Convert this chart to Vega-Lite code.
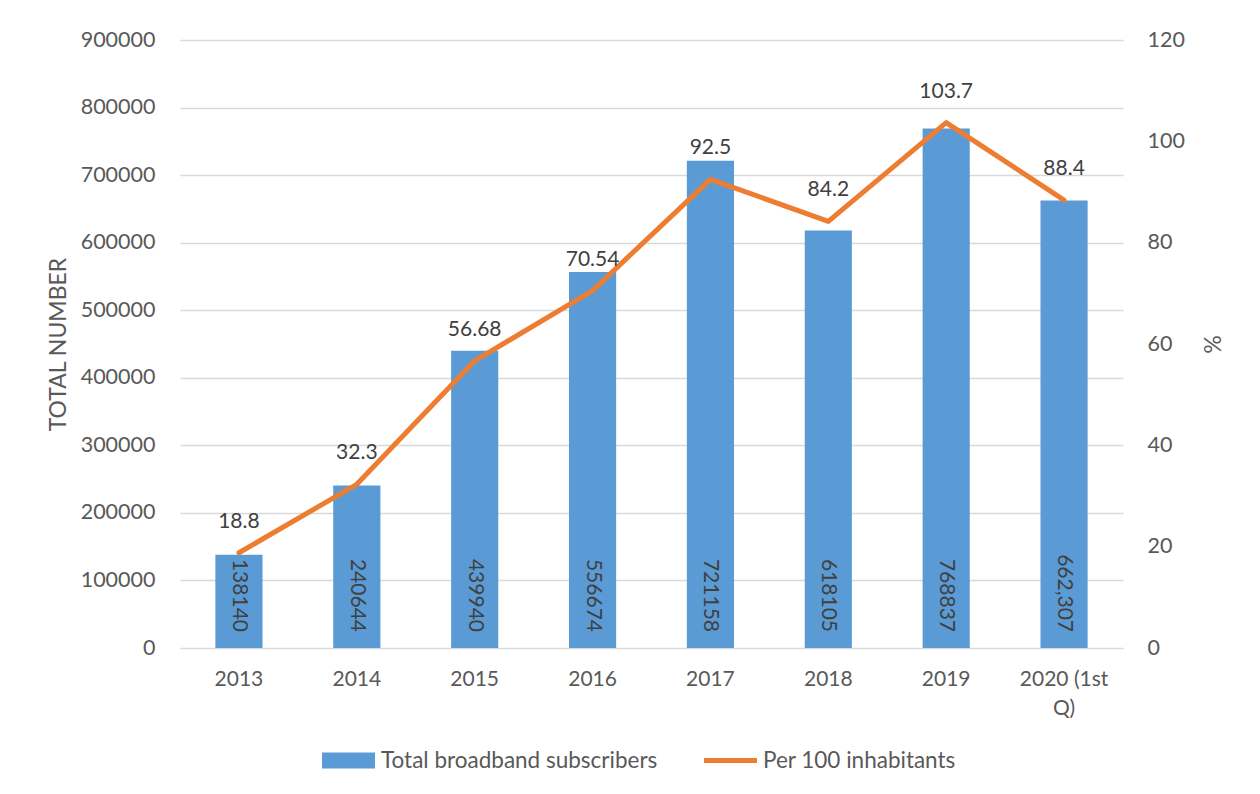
{
  "$schema": "https://vega.github.io/schema/vega-lite/v6.json",
  "width": 943,
  "height": 608,
  "autosize": "none",
  "padding": {"left": 180, "top": 40, "right": 137, "bottom": 146},
  "background": "white",
  "config": {"view": {"stroke": null}, "font": "Lato"},
  "data": {
    "values": [
      {"year": "2013", "subscribers": 138140, "label": "138140", "per100": 18.8, "plabel": "18.8"},
      {"year": "2014", "subscribers": 240644, "label": "240644", "per100": 32.3, "plabel": "32.3"},
      {"year": "2015", "subscribers": 439940, "label": "439940", "per100": 56.68, "plabel": "56.68"},
      {"year": "2016", "subscribers": 556674, "label": "556674", "per100": 70.54, "plabel": "70.54"},
      {"year": "2017", "subscribers": 721158, "label": "721158", "per100": 92.5, "plabel": "92.5"},
      {"year": "2018", "subscribers": 618105, "label": "618105", "per100": 84.2, "plabel": "84.2"},
      {"year": "2019", "subscribers": 768837, "label": "768837", "per100": 103.7, "plabel": "103.7"},
      {"year": "2020 (1st Q)", "subscribers": 662307, "label": "662,307", "per100": 88.4, "plabel": "88.4"}
    ]
  },
  "encoding": {
    "x": {
      "field": "year",
      "type": "nominal",
      "sort": null,
      "scale": {"paddingInner": 0.6, "paddingOuter": 0.3},
      "axis": {
        "title": null,
        "labelAngle": 0,
        "labelFont": "Lato",
        "labelFontSize": 21,
        "labelColor": "#595959",
        "labelPadding": 20,
        "labelLineHeight": 29,
        "domain": false,
        "ticks": false,
        "grid": false,
        "labelExpr": "datum.value == '2020 (1st Q)' ? ['2020 (1st', 'Q)'] : datum.label"
      }
    }
  },
  "layer": [
    {
      "layer": [
        {
          "mark": {"type": "bar", "color": "#5B9BD5"},
          "encoding": {
            "y": {
              "field": "subscribers",
              "type": "quantitative",
              "scale": {"domain": [0, 900000], "nice": false},
              "axis": {
                "orient": "left",
                "title": "TOTAL NUMBER",
                "titleFont": "Lato",
                "titleFontSize": 23,
                "titleFontWeight": "normal",
                "titleColor": "#595959",
                "titlePadding": 10,
                "labelFont": "Lato",
                "labelFontSize": 21.5,
                "labelColor": "#595959",
                "labelPadding": 25,
                "values": [0, 100000, 200000, 300000, 400000, 500000, 600000, 700000, 800000, 900000],
                "format": "d",
                "domain": false,
                "ticks": false,
                "grid": true,
                "gridColor": "#D9D9D9",
                "gridWidth": 1.3
              }
            },
            "color": {
              "datum": "Total broadband subscribers",
              "type": "nominal",
              "scale": {
                "domain": ["Total broadband subscribers", "Per 100 inhabitants"],
                "range": ["#5B9BD5", "#ED7D31"]
              },
              "legend": {
                "orient": "none",
                "legendX": 142,
                "legendY": 694,
                "direction": "horizontal",
                "title": null,
                "padding": 0,
                "columnPadding": 46,
                "labelOffset": 6,
                "labelFont": "Lato",
                "labelFontSize": 22.5,
                "labelColor": "#595959",
                "labelLimit": 400,
                "symbolSize": 2809,
                "symbolType": "M-1,-0.3H1V0.3H-1Z",
                "encode": {
                  "symbols": {
                    "update": {
                      "shape": {"signal": "datum.value === 'Per 100 inhabitants' ? 'M-1,-0.09H1V0.09H-1Z' : 'M-1,-0.3H1V0.3H-1Z'"},
                      "fill": {"scale": "color", "field": "value"},
                      "fillOpacity": {"value": 1},
                      "strokeWidth": {"value": 0}
                    }
                  }
                }
              }
            }
          }
        },
        {
          "mark": {
            "type": "text",
            "angle": 90,
            "align": "right",
            "baseline": "middle",
            "dx": -16,
            "font": "Lato",
            "fontSize": 21,
            "color": "#404040"
          },
          "encoding": {
            "y": {"datum": 0, "type": "quantitative"},
            "text": {"field": "label"}
          }
        }
      ]
    },
    {
      "layer": [
        {
          "mark": {"type": "line", "strokeWidth": 5, "strokeJoin": "round", "strokeCap": "round"},
          "encoding": {
            "y": {
              "field": "per100",
              "type": "quantitative",
              "scale": {"domain": [0, 120], "nice": false},
              "axis": {
                "orient": "right",
                "title": "%",
                "titleFont": "Lato",
                "titleFontSize": 23,
                "titleFontWeight": "normal",
                "titleColor": "#595959",
                "titlePadding": 14,
                "labelFont": "Lato",
                "labelFontSize": 21.5,
                "labelColor": "#595959",
                "labelPadding": 24,
                "values": [0, 20, 40, 60, 80, 100, 120],
                "domain": false,
                "ticks": false,
                "grid": false
              }
            },
            "color": {"datum": "Per 100 inhabitants", "type": "nominal"}
          }
        },
        {
          "mark": {
            "type": "text",
            "baseline": "middle",
            "align": "center",
            "dy": -31,
            "font": "Lato",
            "fontSize": 21,
            "color": "#404040"
          },
          "encoding": {
            "y": {"field": "per100", "type": "quantitative"},
            "text": {"field": "plabel"}
          }
        }
      ]
    }
  ],
  "resolve": {"scale": {"y": "independent"}, "axis": {"y": "independent"}}
}
